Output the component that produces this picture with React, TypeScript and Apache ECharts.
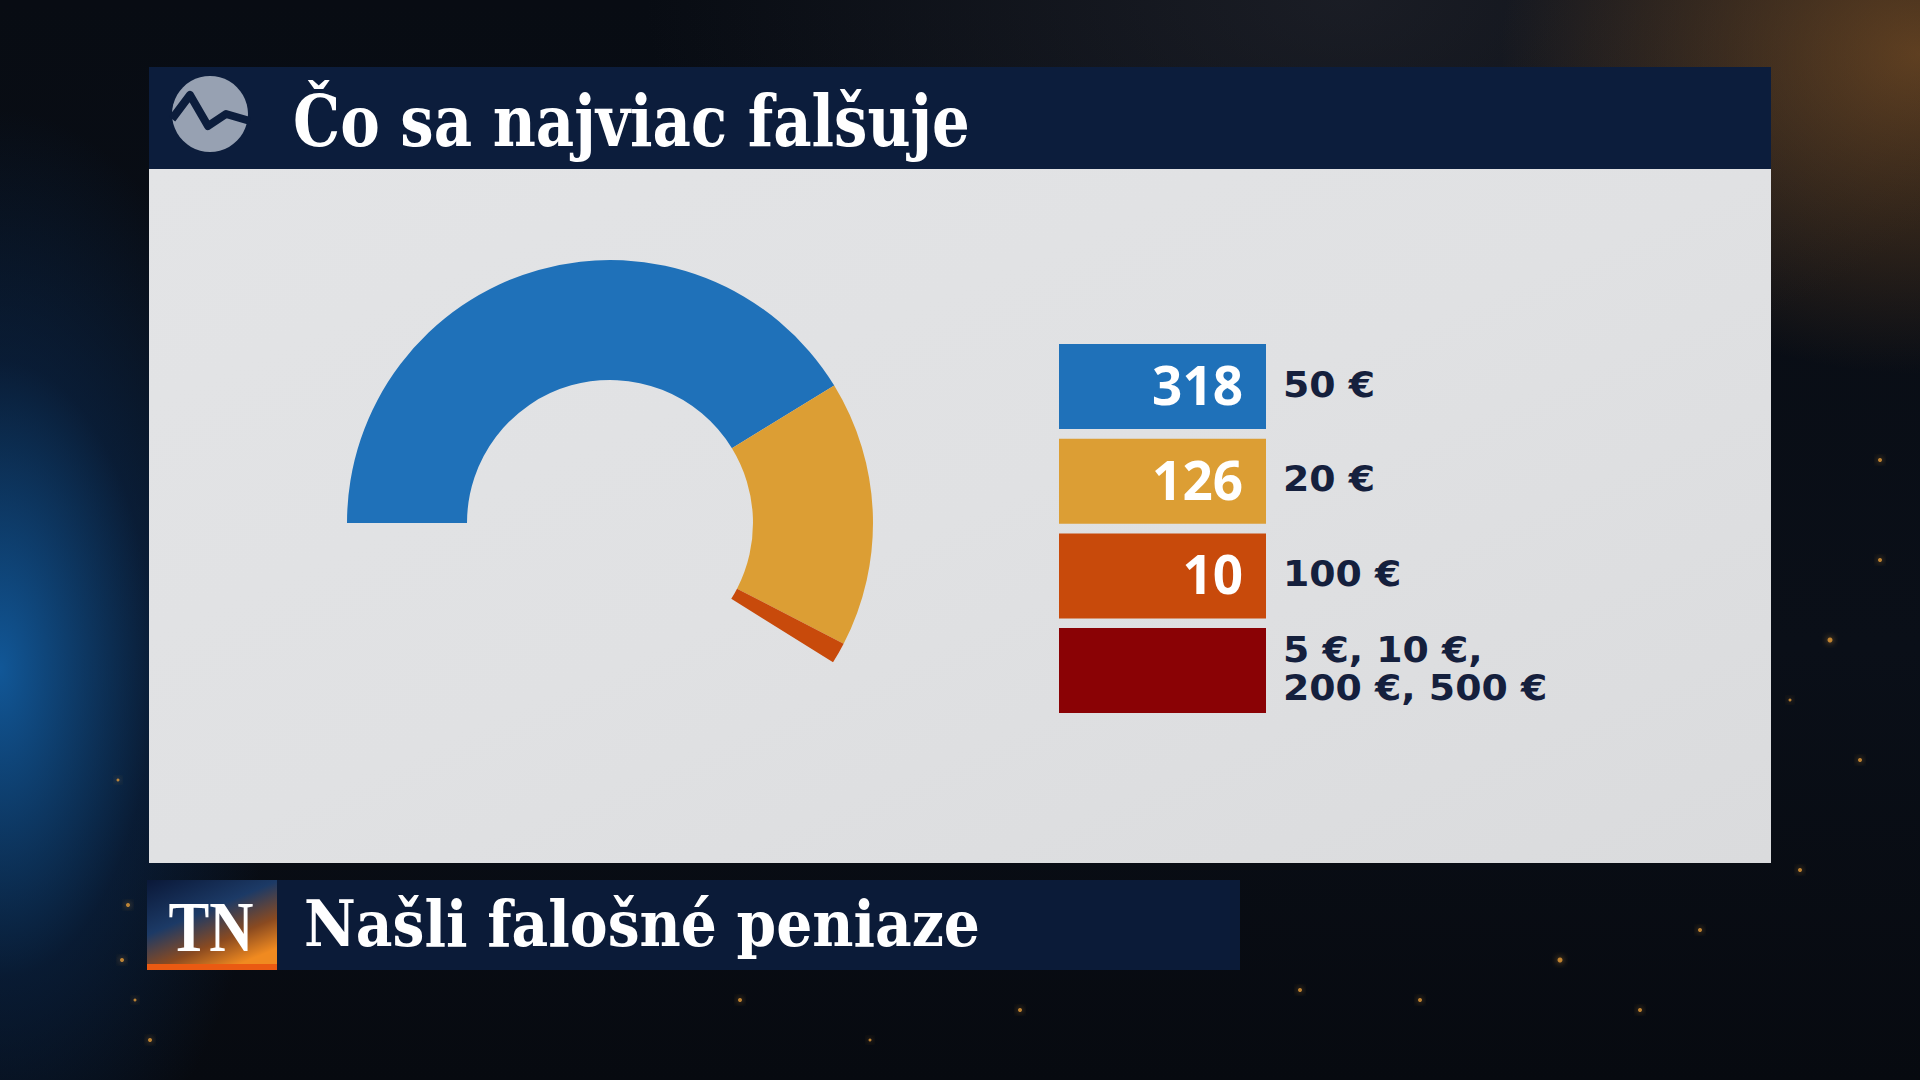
import React, { useEffect, useRef } from "react";
import * as echarts from "echarts";

// ---- data ----
const categories = ["50 €", "20 €", "100 €", "5 €, 10 €,\n200 €, 500 €"];
const values: (number | null)[] = [318, 126, 10, null];
const colors = ["#1f71b9", "#dc9e34", "#c84a0b", "#8a0205"];
const titleText = "Čo sa najviac falšuje";
const footerText = "Našli falošné peniaze";
const footerLogo = "TN";

// ---- layout ----
const PIE_CENTER = [610, 523];
const PIE_RADIUS = [143, 263];
const LEG_X = 1059;
const LEG_W = 207;
const LEG_Y0 = 344;
const LEG_H = 85;
const LEG_PITCH = 94.7;

const NAVY = "#0c1d3c";
const TEXT_DARK = "#15203d";

// decorative background sparkles (not data)
const sparkles: [number, number, number][] = [
  [128, 905, 2], [122, 960, 2], [135, 1000, 1.5], [150, 1040, 2], [118, 780, 1.5],
  [1300, 990, 2], [1420, 1000, 2], [1560, 960, 2.5], [1640, 1010, 2], [1700, 930, 2],
  [1800, 870, 2], [1860, 760, 2], [1830, 640, 2.5], [1880, 560, 2], [1790, 700, 1.5],
  [1020, 1010, 2], [870, 1040, 1.5], [740, 1000, 2], [960, 960, 1.5], [1880, 460, 2],
];

export default function App() {
  const ref = useRef<HTMLDivElement>(null);

  useEffect(() => {
    if (!ref.current) return;
    const chart = echarts.init(ref.current, null, { renderer: "svg" });

    const legendEls: any[] = [];
    categories.forEach((cat, i) => {
      const y = LEG_Y0 + i * LEG_PITCH;
      legendEls.push({
        type: "rect",
        shape: { x: LEG_X, y, width: LEG_W, height: LEG_H },
        style: { fill: colors[i] },
      });
      if (values[i] != null) {
        legendEls.push({
          type: "text",
          x: LEG_X + LEG_W - 23,
          y: y + LEG_H / 2 - 2,
          style: {
            text: String(values[i]),
            fill: "#ffffff",
            font: "bold 53px 'Open Sans'",
            align: "right",
            verticalAlign: "middle",
          },
        });
      }
      const lines = cat.split("\n");
      const lh = 38;
      lines.forEach((line, k) => {
        legendEls.push({
          type: "text",
          x: LEG_X + LEG_W + 17,
          y: y + LEG_H / 2 - 2 + (k - (lines.length - 1) / 2) * lh,
          scaleX: 1.05,
          style: {
            text: line,
            fill: TEXT_DARK,
            font: "bold 36px 'DejaVu Sans'",
            align: "left",
            verticalAlign: "middle",
          },
        });
      });
    });

    const sparkleEls = sparkles.map(([cx, cy, r]) => ({
      type: "circle",
      shape: { cx, cy, r },
      style: { fill: "#f2a33a", opacity: 0.75, shadowBlur: 6, shadowColor: "#ffb040" },
      silent: true,
      z: -10,
    }));

    const option: any = {
      animation: false,
      backgroundColor: "transparent",
      graphic: [
        ...sparkleEls,
        // title bar
        {
          type: "rect",
          shape: { x: 149, y: 67, width: 1622, height: 102 },
          style: { fill: NAVY },
          z: -5,
        },
        // panel
        {
          type: "rect",
          shape: { x: 149, y: 169, width: 1622, height: 694 },
          style: {
            fill: new echarts.graphic.LinearGradient(0, 0, 1, 1, [
              { offset: 0, color: "#e3e4e6" },
              { offset: 0.5, color: "#e0e1e3" },
              { offset: 1, color: "#dadbdd" },
            ]),
          },
          z: -5,
        },
        // logo
        {
          type: "circle",
          shape: { cx: 210, cy: 114, r: 38 },
          style: { fill: "#97a1b2" },
        },
        {
          type: "polyline",
          shape: {
            points: [
              [172, 119],
              [190, 95],
              [208, 126],
              [226, 114],
              [250, 121],
            ],
          },
          style: { stroke: NAVY, lineWidth: 8, fill: null, lineJoin: "round" },
        },
        // title
        {
          type: "text",
          x: 293,
          y: 120,
          scaleX: 0.915,
          style: {
            text: titleText,
            fill: "#ffffff",
            font: "bold 72px 'DejaVu Serif Condensed'",
            align: "left",
            verticalAlign: "middle",
          },
        },
        // footer bar
        {
          type: "rect",
          shape: { x: 147, y: 880, width: 1093, height: 90 },
          style: { fill: "#0b1b38" },
          z: -5,
        },
        {
          type: "rect",
          shape: { x: 147, y: 880, width: 130, height: 90 },
          style: {
            fill: new echarts.graphic.LinearGradient(0, 0, 0.6, 1, [
              { offset: 0, color: "#0a1838" },
              { offset: 0.45, color: "#1c3a66" },
              { offset: 0.75, color: "#8a4a20" },
              { offset: 1, color: "#f08a20" },
            ]),
          },
        },
        {
          type: "rect",
          shape: { x: 147, y: 964, width: 130, height: 6 },
          style: { fill: "#ea5a12" },
        },
        {
          type: "text",
          x: 211,
          y: 926,
          scaleX: 0.85,
          style: {
            text: footerLogo,
            fill: "#ffffff",
            font: "bold 72px 'Liberation Serif'",
            align: "center",
            verticalAlign: "middle",
          },
        },
        {
          type: "text",
          x: 304,
          y: 924,
          style: {
            text: footerText,
            fill: "#ffffff",
            font: "bold 63px 'DejaVu Serif Condensed'",
            align: "left",
            verticalAlign: "middle",
          },
        },
        ...legendEls,
      ],
      series: [
        {
          type: "pie",
          center: PIE_CENTER,
          radius: PIE_RADIUS,
          startAngle: 180,
          endAngle: -32,
          clockwise: true,
          silent: true,
          avoidLabelOverlap: false,
          label: { show: false },
          labelLine: { show: false },
          itemStyle: { borderWidth: 0 },
          data: categories
            .map((c, i) => ({ name: c, value: values[i], itemStyle: { color: colors[i] } }))
            .filter((d) => d.value != null),
        },
      ],
    };

    chart.setOption(option);
    return () => chart.dispose();
  }, []);

  return (
    <div
      ref={ref}
      style={{
        position: "fixed",
        left: 0,
        top: 0,
        width: 1920,
        height: 1080,
        background:
          "radial-gradient(ellipse 280px 560px at 0% 62%, rgba(18,95,165,0.9), rgba(10,50,100,0.4) 55%, transparent 100%)," +
          "radial-gradient(ellipse 420px 320px at 100% 5%, rgba(150,95,40,0.6), transparent 100%)," +
          "radial-gradient(ellipse 700px 400px at 70% 0%, rgba(60,60,70,0.35), transparent 100%)," +
          "linear-gradient(180deg, #080c13 0%, #0a0f18 60%, #070a10 100%)",
      }}
    />
  );
}
